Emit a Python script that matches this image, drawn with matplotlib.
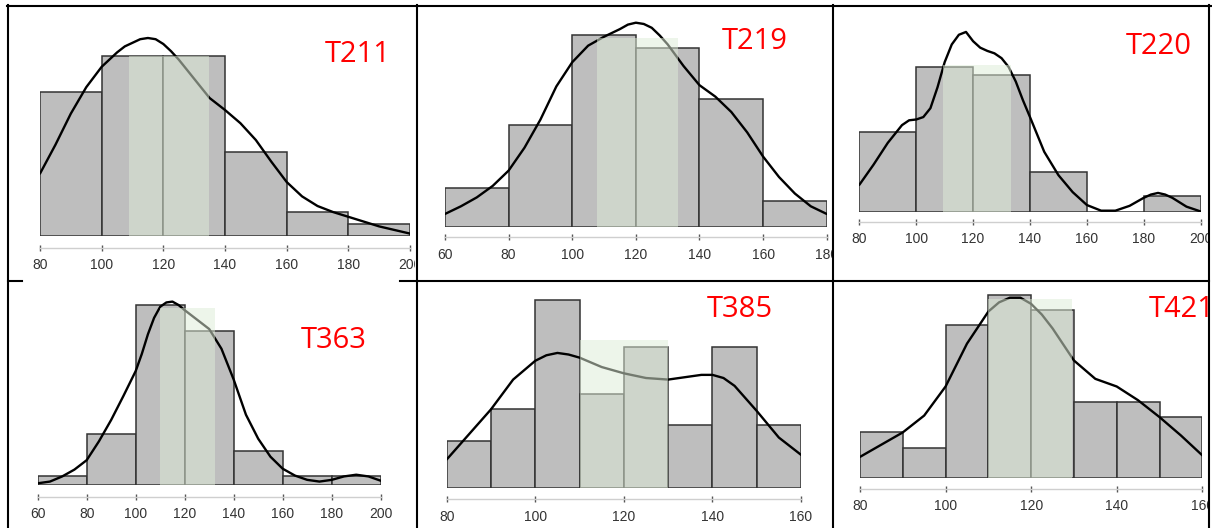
import numpy as np
import matplotlib
matplotlib.use("Agg")
import matplotlib.pyplot as plt
from matplotlib.lines import Line2D
from matplotlib.transforms import Bbox, TransformedBbox

W, H = 1212, 528

# ---- data ----
T211_BINS = [80, 100, 120, 140, 160, 180, 200]
T211_COUNTS = [12, 15, 15, 7, 2, 1]
T211_KDE_X = [80, 85, 90, 95, 100, 105, 107.5, 110, 112.5, 115, 117.5, 120, 122.5,
              125, 130, 135, 140, 145, 150, 155, 160, 165, 170, 175, 180, 185, 190,
              195, 200]
T211_KDE = [5.2, 7.6, 10.2, 12.4, 14.1, 15.3, 15.8, 16.1, 16.4, 16.5, 16.4, 16.0,
            15.4, 14.7, 13.1, 11.5, 10.5, 9.4, 8.0, 6.2, 4.5, 3.3, 2.5, 2.0, 1.6,
            1.2, 0.8, 0.5, 0.2]
T211_BAND = (108.8, 134.8, 15.0)

T219_BINS = [60, 80, 100, 120, 140, 160, 180]
T219_COUNTS = [3, 8, 15, 14, 10, 2]
T219_KDE_X = [60, 65, 70, 75, 80, 85, 90, 95, 100, 105, 110, 115, 117.5, 120, 122.5,
              125, 127.5, 130, 135, 140, 145, 150, 155, 160, 165, 170, 175, 180]
T219_KDE = [1.0, 1.6, 2.3, 3.2, 4.4, 6.2, 8.4, 11.0, 12.9, 14.2, 14.9, 15.5, 15.85,
            16.0, 15.9, 15.6, 15.0, 14.3, 12.6, 11.1, 10.2, 9.0, 7.4, 5.5, 3.9, 2.6,
            1.6, 1.0]
T219_BAND = (107.7, 133.2, 14.8)

T220_BINS = [80, 100, 120, 140, 160, 180, 200]
T220_COUNTS = [10, 18, 17, 5, 0, 2]
T220_KDE_X = [80, 85, 90, 95, 97.5, 100, 102.5, 105, 107.5, 110, 112.5, 115, 117.5,
              120, 122.5, 125, 127.5, 130, 132.5, 135, 137.5, 140, 145, 150, 155,
              160, 165, 170, 175, 180, 182.5, 185, 187.5, 190, 195, 200]
T220_KDE = [3.4, 5.9, 8.6, 10.8, 11.4, 11.5, 11.8, 12.9, 15.5, 18.6, 20.8, 22.0,
            22.35, 21.2, 20.4, 20.0, 19.7, 19.1, 18.0, 16.2, 13.9, 11.8, 7.5, 4.6,
            2.5, 0.9, 0.2, 0.2, 0.8, 1.8, 2.2, 2.4, 2.2, 1.8, 0.7, 0.1]
T220_BAND = (109.5, 133.2, 18.2)

T363_BINS = [60, 80, 100, 120, 140, 160, 180, 200]
T363_COUNTS = [1, 6, 21, 18, 4, 1, 1]
T363_KDE_X = [60, 65, 70, 75, 80, 85, 90, 95, 100, 102.5, 105, 107.5, 110, 112.5,
              115, 117.5, 120, 125, 130, 135, 140, 145, 150, 155, 160, 165, 170,
              175, 180, 185, 190, 195, 200]
T363_KDE = [0.2, 0.4, 1.0, 1.8, 2.9, 5.1, 7.6, 10.4, 13.3, 15.3, 17.6, 19.5, 20.8,
            21.3, 21.4, 21.0, 20.4, 19.3, 18.2, 15.9, 12.3, 8.2, 5.4, 3.3, 1.9, 1.1,
            0.6, 0.4, 0.6, 1.0, 1.2, 1.0, 0.5]
T363_BAND = (109.9, 132.4, 20.7)

T385_BINS = [80, 90, 100, 110, 120, 130, 140, 150, 160]
T385_COUNTS = [3, 5, 12, 6, 9, 4, 9, 4]
T385_KDE_X = [80, 85, 90, 95, 100, 102.5, 105, 107.5, 110, 115, 120, 125, 130, 135,
              137.5, 140, 142.5, 145, 150, 155, 160]
T385_KDE = [1.8, 3.4, 5.0, 6.9, 8.1, 8.45, 8.6, 8.5, 8.3, 7.7, 7.3, 7.0, 6.9, 7.1,
            7.2, 7.2, 7.0, 6.5, 4.9, 3.2, 2.1]
T385_BAND = (110.1, 130.0, 9.4)

T421_BINS = [80, 90, 100, 110, 120, 130, 140, 150, 160]
T421_COUNTS = [3, 2, 10, 12, 11, 5, 5, 4]
T421_KDE_X = [80, 85, 90, 95, 100, 105, 110, 112.5, 115, 117.5, 120, 122.5, 125,
              130, 135, 140, 145, 150, 155, 160]
T421_KDE = [1.4, 2.2, 3.0, 4.1, 6.0, 8.8, 10.9, 11.5, 11.8, 11.8, 11.4, 10.7, 9.8,
            7.7, 6.5, 6.0, 5.1, 4.0, 2.8, 1.5]
T421_BAND = (110.0, 129.5, 11.7)

# layout in pixels: x of first tick, x of last tick, baseline y, px per count,
# axis line y, cell (x0, y0, x1, y1), label (left x, baseline y)
PANELS = [
    ("T211", T211_BINS, T211_COUNTS, T211_KDE_X, T211_KDE, T211_BAND,
     (40, 410, 236, 12.0, 248, (8, 5, 415, 280), (325, 62))),
    ("T219", T219_BINS, T219_COUNTS, T219_KDE_X, T219_KDE, T219_BAND,
     (445, 826.7, 226.7, 12.75, 237.3, (417, 5, 832, 280), (722, 49))),
    ("T220", T220_BINS, T220_COUNTS, T220_KDE_X, T220_KDE, T220_BAND,
     (859.3, 1200.7, 212.3, 8.07, 221.7, (833, 5, 1208, 280), (1126, 54))),
    ("T363", T363_BINS, T363_COUNTS, T363_KDE_X, T363_KDE, T363_BAND,
     (37.7, 380.7, 485, 8.57, 496.7, (8, 281, 416, 528), (301, 348))),
    ("T385", T385_BINS, T385_COUNTS, T385_KDE_X, T385_KDE, T385_BAND,
     (446.7, 801, 487.7, 15.67, 499.3, (417, 281, 832, 528), (707, 317))),
    ("T421", T421_BINS, T421_COUNTS, T421_KDE_X, T421_KDE, T421_BAND,
     (860, 1202.3, 478.3, 15.3, 489, (833, 281, 1208, 528), (1149, 317))),
]

BAR_GRAY = "#bebebe"
EDGE = "#333333"
BAND_GREEN = "#deecd7"

fig = plt.figure(figsize=(W / 100, H / 100), dpi=100)


def px_bbox(x0, y0, x1, y1):
    # pixel box (top-left origin) -> display bbox for clipping
    return TransformedBbox(Bbox.from_extents(x0 / W, 1 - y1 / H, x1 / W, 1 - y0 / H),
                           fig.transFigure)


for name, bins, counts, kx, ky, band, lay in PANELS:
    px0, px1, base, unit, axis_y, cell, lab = lay
    top = cell[1] + 6
    ax = fig.add_axes([px0 / W, 1 - base / H, (px1 - px0) / W, (base - top) / H])
    ax.patch.set_visible(False)
    ax.set_xlim(bins[0], bins[-1])
    ax.set_ylim(0, (base - top) / unit)

    ax.bar(bins[:-1], counts, width=np.diff(bins), align="edge",
           color=BAR_GRAY, edgecolor=EDGE, linewidth=1.1, zorder=2)
    ax.plot(kx, ky, color="black", linewidth=1.7, solid_joinstyle="round",
            solid_capstyle="round", zorder=3)
    ax.bar(band[0], band[2], width=band[1] - band[0], align="edge",
           color=BAND_GREEN, alpha=0.52, linewidth=0, zorder=4)

    for s in ["top", "right", "left"]:
        ax.spines[s].set_visible(False)
    ax.spines["bottom"].set_position(("outward", (axis_y - base) * 0.72))
    ax.spines["bottom"].set_bounds(bins[0], bins[-1])
    ax.spines["bottom"].set_color("#cfcfcf")
    ax.spines["bottom"].set_linewidth(1.0)
    ax.set_yticks([])
    ticks = list(range(bins[0], bins[-1] + 1, 20))
    ax.set_xticks(ticks)
    ax.set_xticklabels([str(t) for t in ticks])
    ax.tick_params(axis="x", direction="inout", length=5, width=1.0,
                   color="#555555", labelcolor="#333333", labelsize=10, pad=5)
    clip = px_bbox(*cell)
    for tk in ax.xaxis.get_major_ticks():
        tk.label1.set_fontfamily("Liberation Sans")
        tk.label1.set_clip_box(clip)
        tk.label1.set_clip_on(True)

    t = fig.text(lab[0] / W, 1 - lab[1] / H, name, color="#ff0000", fontsize=21,
                 family="Open Sans", ha="left", va="baseline")
    t.set_clip_box(clip)
    t.set_clip_on(True)

# table borders
border_segments = [
    ((7, 5.5), (1212, 5.5)),
    ((8, 5), (8, 528)),
    ((417, 5), (417, 528)),
    ((833, 5), (833, 528)),
    ((1209, 5), (1209, 528)),
    ((8, 280.5), (22, 280.5)),
    ((400, 280.5), (1209, 280.5)),
]
for (xa, ya), (xb, yb) in border_segments:
    fig.add_artist(Line2D([xa / W, xb / W], [1 - ya / H, 1 - yb / H],
                          transform=fig.transFigure, color="black", linewidth=1.5))

fig.savefig("out.png", dpi=100)
